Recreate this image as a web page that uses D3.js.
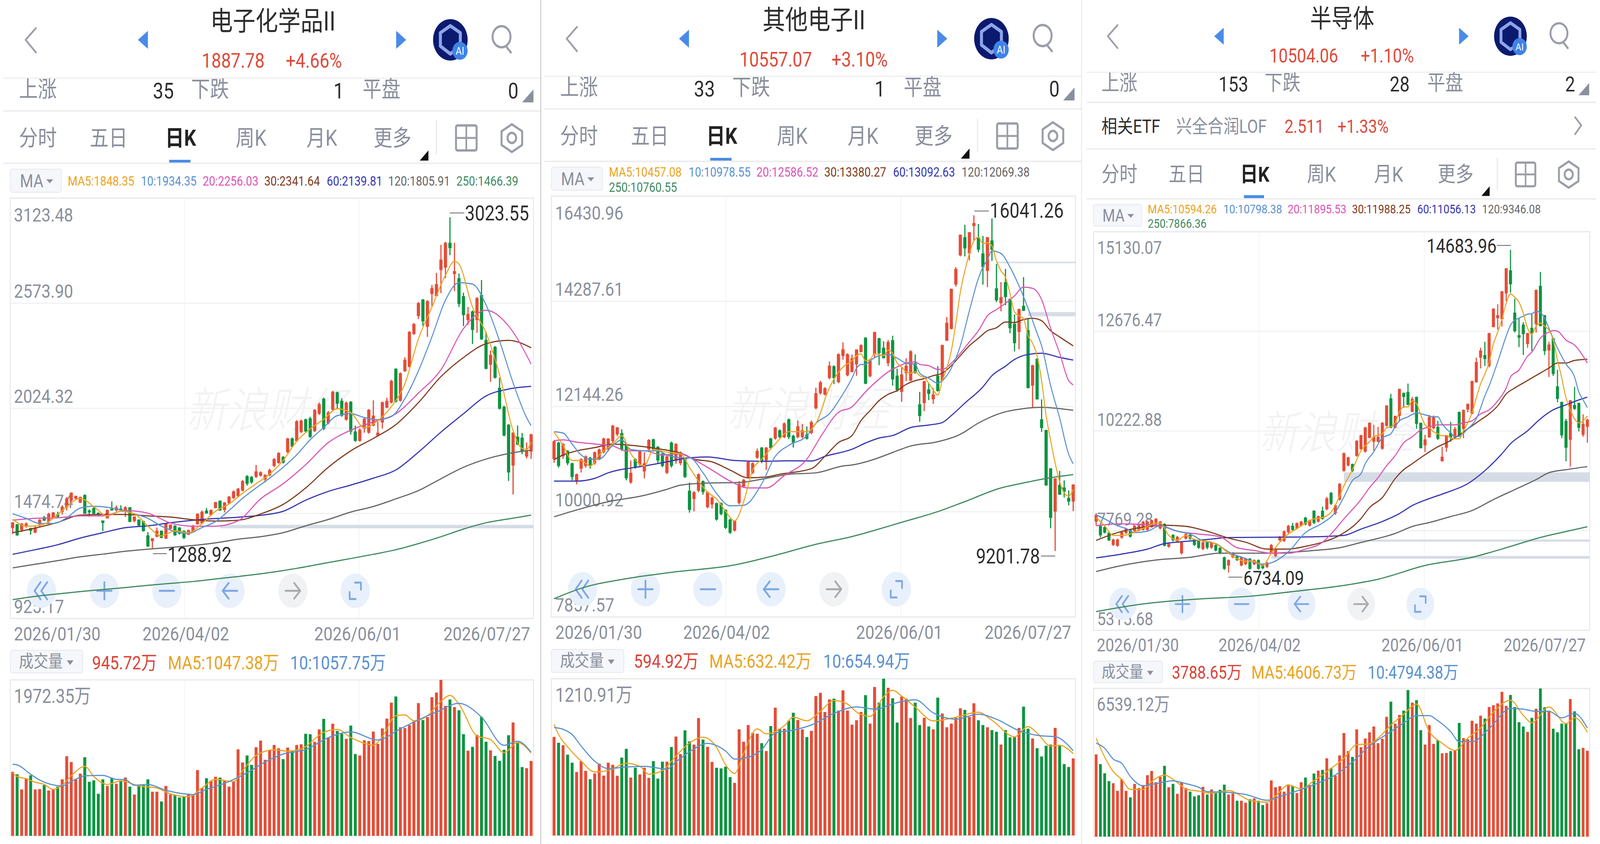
<!DOCTYPE html>
<html>
<head>
<meta charset="utf-8">
<script src="https://cdn.jsdelivr.net/npm/d3@7"></script>
<style>
html, body { margin: 0; padding: 0; background: #fff; overflow: hidden; }
text { font-family: Roboto, "Noto Sans CJK SC", sans-serif; }
</style>
</head>
<body>
<script>
// candles are [open, close, high, low]
const p1Candles = [[1398,1428,1430,1367],[1418,1360,1420,1358],[1388,1422,1424,1378],[1405,1422,1428,1400],[1398,1384,1400,1364],[1374,1401,1408,1372],[1418,1442,1445,1405],[1455,1437,1462,1435],[1432,1473,1478,1425],[1452,1480,1482,1450],
[1470,1456,1484,1455],[1483,1510,1517,1469],[1507,1554,1560,1490],[1541,1583,1585,1524],[1552,1566,1568,1544],[1531,1561,1563,1529],[1571,1473,1575,1473],[1490,1480,1496,1457],[1503,1473,1509,1470],[1478,1470,1480,1459],
[1438,1425,1438,1382],[1449,1493,1495,1449],[1500,1490,1537,1490],[1490,1507,1517,1485],[1500,1490,1517,1490],[1483,1507,1513,1456],[1507,1430,1507,1430],[1435,1459,1459,1428],[1442,1411,1444,1409],[1435,1382,1437,1380],
[1360,1302,1377,1300],[1330,1345,1345,1289],[1353,1384,1401,1350],[1384,1347,1386,1345],[1343,1422,1424,1341],[1394,1416,1418,1392],[1411,1360,1413,1358],[1401,1369,1403,1365],[1384,1347,1386,1341],[1364,1388,1390,1362],
[1377,1408,1415,1375],[1418,1473,1475,1416],[1422,1484,1490,1420],[1490,1475,1503,1473],[1466,1493,1495,1464],[1503,1534,1535,1501],[1541,1490,1543,1488],[1493,1532,1534,1480],[1527,1563,1565,1525],[1555,1590,1595,1550],
[1565,1604,1608,1560],[1594,1644,1650,1590],[1670,1630,1675,1620],[1666,1637,1670,1630],[1666,1695,1728,1660],[1672,1690,1695,1668],[1652,1676,1680,1637],[1673,1702,1709,1668],[1723,1759,1765,1717],[1738,1791,1795,1735],
[1770,1740,1775,1735],[1795,1867,1870,1790],[1867,1824,1872,1820],[1853,1957,1962,1850],[1900,1960,1965,1895],[1967,1903,1970,1895],[1972,1874,1980,1870],[1905,2017,2020,1900],[1996,2046,2055,1990],[2075,1917,2080,1910],
[1946,2003,2010,1940],[2017,2111,2116,2010],[2108,2048,2112,2022],[2064,1986,2077,1980],[1965,2054,2060,1960],[2059,1903,2062,1887],[1903,1854,1934,1850],[1854,1913,1920,1850],[1918,1970,1975,1897],[1897,2017,2020,1892],
[1934,1986,2066,1930],[1882,1897,1955,1880],[1950,2056,2060,1918],[2028,2064,2080,2025],[2054,2168,2174,2050],[2231,2059,2234,2055],[2064,2208,2212,2060],[2218,2278,2291,2215],[2241,2424,2428,2238],[2413,2465,2471,2408],
[2507,2575,2580,2491],[2593,2479,2596,2455],[2450,2585,2590,2398],[2622,2653,2669,2559],[2611,2674,2733,2611],[2747,2802,2879,2627],[2760,2890,2895,2705],[2890,2862,3023,2825],[2726,2742,2890,2637],[2705,2570,2729,2554],
[2611,2512,2629,2455],[2486,2518,2554,2460],[2531,2434,2536,2361],[2486,2601,2606,2419],[2617,2385,2695,2382],[2382,2231,2424,2228],[2252,2304,2327,2163],[2346,2184,2350,2180],[2132,2022,2184,2018],[2033,1882,2038,1878],
[1939,1689,1942,1645],[1725,1897,1900,1574],[1876,1835,1934,1832],[1871,1798,1895,1785],[1772,1804,1845,1762],[1798,1888,1892,1760]];
const p2Candles = [[11074,11437,11460,11000],[11410,10933,11430,10900],[11130,11382,11400,11080],[11241,10990,11260,10950],[10990,10710,11000,10640],[10626,10766,10780,10560],[10878,11074,11090,10800],[10934,11130,11150,10900],[11102,10934,11120,10880],[10990,11214,11230,10960],
[11074,11270,11290,11050],[11214,11493,11510,11190],[11270,11493,11500,11230],[11437,11756,11770,11400],[11578,11717,11730,11540],[11605,11270,11680,11240],[11382,10682,11400,10640],[10598,10794,11046,10570],[11074,10906,11090,10880],[10962,11241,11260,10930],
[10822,10990,11214,10682],[11270,11465,11480,11230],[11477,11270,11490,11230],[11325,11046,11340,10990],[11185,10934,11200,10910],[10794,11130,11150,10770],[11410,10934,11430,10900],[11035,11382,11400,10980],[10990,11214,11230,10950],[11074,10710,11090,10690],
[10430,10038,10598,9983],[10262,10402,10420,10010],[10430,10766,10780,10400],[10626,10402,10640,10350],[10094,10402,10420,10070],[10150,10290,10310,10066],[10178,9842,10190,9820],[10178,9954,10190,9930],[10038,9674,10050,9650],[9842,9573,9860,9550],
[9618,9814,9830,9600],[10178,10570,10626,10150],[10514,10654,10670,10490],[10710,11018,11030,10680],[10794,10990,11010,10770],[11102,11241,11290,11080],[11309,11018,11320,10990],[11046,11309,11320,10850],[11493,11298,11510,11270],[11493,11717,11730,11470],
[11661,11521,11680,11500],[11521,11801,11820,11500],[11885,11521,11900,11480],[11549,11410,11570,11309],[11521,11745,11860,11500],[11521,11661,11790,11500],[11577,11493,11740,11470],[11605,11829,11860,11580],[12109,12417,12529,12090],[12417,12641,12670,12390],
[12390,12518,12540,12370],[12725,12977,13061,12700],[12966,12725,12985,12600],[12641,13212,13230,12620],[13173,13313,13453,13100],[12781,13212,13230,12760],[12850,13130,13206,12840],[13003,13308,13308,12774],[13257,13399,13410,13250],[13547,12611,13560,12600],
[12764,13079,13100,12740],[13206,13663,13670,13130],[13536,13231,13545,12987],[13343,13130,13475,13125],[13028,13460,13500,12967],[13496,12698,13587,12571],[12774,12479,12916,12444],[12444,12799,12937,12240],[12825,12977,13130,12662],[12672,13272,13290,12660],
[13028,12825,13206,12815],[12190,11951,12444,11834],[12215,12662,12670,12052],[12494,12403,12621,12276],[12291,12393,12520,12200],[12774,12459,12967,12450],[12672,13399,13405,12660],[13486,13851,13968,13480],[13725,14543,14548,13718],[14629,14949,14985,14588],
[15224,15645,15650,15204],[15595,15366,15849,15203],[15264,15696,15700,15122],[15823,15884,16041,15529],[15595,15340,15864,15290],[15264,14985,15620,14629],[14908,15595,15600,14578],[15529,15340,15976,15112],[14553,14309,15051,14273],[14248,14375,14680,14085],
[14680,14375,14949,14207],[14339,13740,14345,13638],[13831,13435,14019,13267],[13663,14131,14140,13308],[14197,14095,14781,14090],[13699,12520,13933,12515],[12570,12987,12995,12124],[13120,12291,13125,12285],[11885,11707,12291,11630],[11666,10538,11672,10530],
[10884,9877,10890,9664],[10004,10680,10685,9202],[10548,10350,10833,10345],[10497,10411,10640,10294],[10284,10208,10436,10131],[10208,10557,10562,10015]];
const p3Candles = [[7990,8159,8200,7889],[7889,7652,7910,7600],[7855,7720,7880,7700],[7720,7531,7740,7510],[7416,7551,7570,7390],[7395,7551,7570,7370],[7598,7733,7750,7570],[7707,7821,7840,7690],[7787,7618,7800,7600],[7754,7889,7900,7730],
[7774,7889,7900,7750],[7787,7990,8010,7770],[7787,7990,8010,7770],[7855,8024,8040,7840],[7922,8058,8080,7900],[7821,7990,8010,7800],[7936,7396,7950,7380],[7369,7450,7470,7350],[7666,7531,7680,7500],[7504,7618,7640,7480],
[7213,7483,7500,7180],[7571,7686,7700,7550],[7666,7571,7680,7540],[7551,7416,7570,7390],[7517,7348,7530,7320],[7315,7483,7500,7290],[7483,7348,7500,7310],[7348,7483,7500,7320],[7416,7281,7430,7260],[7348,7213,7360,7190],
[7112,6828,7130,6800],[6910,7045,7060,6734],[7112,7213,7240,7090],[7146,7045,7160,7020],[6910,7125,7140,6890],[6943,7079,7100,6920],[7079,6828,7095,6810],[6943,7045,7060,6920],[7045,6828,7060,6810],[6943,6842,6960,6820],
[6876,6977,7000,6850],[7213,7416,7440,7190],[7146,7315,7330,7120],[7531,7618,7640,7510],[7517,7753,7770,7490],[7729,7889,7910,7700],[7889,7787,7960,7770],[7821,7956,7970,7800],[7889,7990,8010,7870],[8091,7922,8110,7900],
[7889,8024,8040,7870],[8260,7956,8270,7930],[7990,8125,8140,7970],[8260,8058,8360,8040],[8294,8564,8600,8270],[8699,8429,8720,8400],[8193,8395,8420,8155],[8530,8922,8940,8510],[9239,9678,9690,9220],[9374,9576,9590,9350],
[9408,9239,9420,9210],[9610,9981,10000,9590],[9779,10117,10130,9760],[9712,10311,10325,9690],[10055,10424,10440,10040],[9957,10080,10375,9736],[9957,10080,10325,9945],[9786,10424,10440,9761],[10350,10851,10860,10330],[11027,10301,11135,10290],
[10301,10595,10600,10290],[10595,11258,11265,10448],[11160,11062,11170,10792],[11184,10865,11390,10860],[10693,11013,11062,10685],[11062,10399,11070,10276],[10424,9800,10430,9795],[9869,10016,10129,9702],[10065,10571,10620,10060],[10291,10571,10605,10260],
[10325,10031,10473,10001],[9476,9589,9834,9476],[9810,10104,10110,9712],[10178,10055,10448,9957],[10055,10276,10325,10050],[10693,10080,10698,10075],[10276,10743,10750,10046],[10752,10890,10900,10684],[10644,11454,11460,10640],[11420,11921,12029,11415],
[12029,12205,12274,11764],[12093,11994,12421,11823],[11823,12633,12640,11790],[12780,13236,13242,12775],[13001,13074,13344,12716],[12976,13664,13670,12795],[13614,14228,14234,13418],[14179,13835,14684,13629],[13138,12682,13482,12648],[12583,12520,13001,12289],
[12844,12608,12903,12093],[12363,12633,12640,12274],[12765,12633,13099,12191],[12854,13698,13704,12648],[13796,12804,14140,12800],[13074,12191,13080,12093],[12205,12353,12421,11553],[12510,11626,12515,11577],[11322,11013,11734,10929],[10939,10114,10945,10046],
[10473,9810,10522,9476],[10006,10978,10985,9344],[10865,10767,11307,10740],[10914,10301,10920,10212],[10129,10399,10635,10080],[10325,10504,10522,9933]];

// moving averages as [bar index, value]
const p1Ma5 = [[0,1445],[3,1408],[6,1412],[9,1449],[12,1510],[15,1554],[18,1510],[21,1462],[24,1486],[27,1473],[30,1408],[33,1357],[36,1384],[39,1374],[42,1422],[45,1486],[48,1524],[51,1580],[54,1630],[57,1680],[60,1752],[63,1852],[66,1917],[69,1967],[72,2022],[75,2002],[78,1923],[81,1960],[84,2033],[87,2153],[90,2387],[93,2554],[96,2721],[98,2793],[99,2778],[102,2554],[105,2419],[108,2200],[111,1908],[113,1814],[114,1809],[115,1848]];
const p1Ma10 = [[0,1473],[3,1449],[6,1422],[9,1422],[12,1452],[15,1503],[18,1512],[21,1507],[24,1493],[27,1473],[30,1449],[33,1408],[36,1381],[39,1371],[42,1401],[45,1432],[48,1490],[51,1554],[54,1608],[57,1659],[60,1716],[63,1781],[66,1860],[69,1924],[72,1986],[75,1996],[78,1976],[81,1965],[84,1981],[87,2075],[90,2220],[93,2398],[96,2590],[99,2681],[102,2674],[105,2565],[108,2377],[111,2158],[114,1976],[115,1934]];
const p1Ma20 = [[0,1439],[5,1449],[10,1452],[15,1462],[20,1462],[25,1490],[30,1476],[35,1425],[40,1408],[45,1408],[50,1436],[55,1551],[60,1630],[65,1730],[70,1845],[75,1910],[80,1953],[85,1996],[90,2104],[95,2226],[100,2441],[105,2537],[110,2455],[115,2256]];
const p1Ma30 = [[0,1374],[5,1398],[10,1428],[15,1466],[20,1469],[25,1469],[30,1462],[35,1456],[40,1442],[45,1435],[50,1439],[55,1472],[60,1522],[65,1608],[70,1716],[75,1802],[80,1867],[85,1939],[90,2054],[95,2190],[100,2290],[105,2362],[110,2380],[115,2341]];
const p1Ma60 = [[0,1261],[5,1285],[10,1311],[15,1346],[20,1374],[25,1400],[30,1410],[35,1426],[40,1439],[45,1448],[50,1455],[55,1465],[60,1486],[65,1544],[70,1590],[75,1623],[80,1659],[85,1702],[90,1795],[95,1900],[100,1996],[105,2089],[110,2125],[115,2139]];
const p1Ma120 = [[0,1190],[5,1209],[10,1228],[15,1248],[20,1262],[25,1277],[30,1288],[35,1297],[40,1307],[45,1321],[50,1340],[55,1353],[60,1374],[65,1410],[70,1443],[75,1482],[80,1511],[85,1551],[90,1594],[95,1656],[100,1716],[105,1759],[110,1788],[115,1805]];
const p1Ma250 = [[0,1024],[5,1041],[10,1054],[15,1066],[20,1077],[25,1087],[30,1099],[35,1109],[40,1119],[45,1132],[50,1145],[55,1159],[60,1176],[65,1196],[70,1218],[75,1239],[80,1261],[85,1285],[90,1317],[95,1353],[100,1393],[105,1426],[110,1446],[115,1466]];

const p2Ma5 = [[0,11622],[2,11354],[4,11046],[6,11046],[8,10934],[10,11158],[13,11382],[15,11549],[17,11186],[20,10934],[22,11270],[25,11214],[28,11186],[30,10906],[32,10626],[34,10402],[36,10262],[38,10010],[40,9814],[42,10206],[44,10850],[46,11074],[49,11381],[52,11633],[56,11633],[58,11801],[61,12529],[64,12949],[66,13079],[67,13178],[68,13216],[69,13079],[70,13104],[71,13221],[73,13181],[74,13292],[75,13231],[76,13028],[77,12952],[78,12850],[79,12825],[80,12850],[81,12774],[82,12733],[83,12621],[84,12479],[85,12378],[86,12672],[87,12927],[88,13282],[89,13841],[90,14477],[91,14908],[92,15264],[93,15518],[94,15594],[95,15467],[96,15478],[97,15417],[98,15112],[99,14908],[100,14781],[101,14451],[102,14070],[103,13994],[104,13933],[105,13587],[106,13435],[107,13181],[108,12672],[109,11961],[110,11452],[111,10995],[112,10614],[113,10385],[114,10319],[115,10457]];
const p2Ma10 = [[0,11633],[2,11605],[4,11381],[6,11158],[8,11074],[10,11074],[13,11354],[15,11465],[17,11270],[20,11242],[23,11242],[25,11158],[28,11102],[30,11102],[33,10794],[36,10374],[39,10122],[42,10133],[46,10570],[49,11130],[52,11354],[56,11550],[58,11801],[61,12000],[64,12400],[66,12723],[67,12926],[68,13003],[69,13003],[70,13079],[72,13181],[74,13206],[76,13130],[78,13028],[80,13003],[81,12825],[83,12723],[85,12621],[86,12672],[88,12926],[90,13384],[92,14095],[94,14756],[95,14985],[96,15137],[97,15315],[99,15264],[101,14985],[103,14603],[105,14146],[107,13638],[108,13384],[110,12570],[112,11910],[114,11173],[115,10978]];
const p2Ma20 = [[0,11449],[2,11465],[5,11420],[9,11381],[13,11342],[16,11242],[20,11242],[24,11158],[28,11186],[31,11063],[35,10850],[39,10626],[43,10486],[47,10486],[51,10738],[56,11073],[59,11521],[63,12026],[66,12139],[68,12342],[69,12444],[71,12622],[74,12850],[76,12952],[78,13028],[80,13053],[81,13003],[83,12977],[85,12901],[86,12901],[88,13028],[90,13231],[92,13460],[94,13689],[96,13994],[98,14121],[100,14248],[102,14400],[104,14578],[106,14553],[108,14324],[110,13740],[112,13231],[114,12672],[115,12586]];
const p2Ma30 = [[0,11063],[2,11157],[5,11242],[9,11308],[13,11381],[16,11365],[20,11326],[24,11270],[28,11197],[31,11074],[35,11018],[39,10850],[43,10693],[47,10710],[50,10766],[57,10880],[60,11130],[63,11410],[66,11554],[68,11859],[70,12062],[72,12266],[74,12393],[76,12469],[78,12596],[80,12672],[82,12713],[84,12774],[86,12825],[88,12977],[90,13181],[92,13384],[94,13536],[96,13689],[98,13750],[100,13867],[102,13857],[104,13918],[106,13943],[108,13892],[110,13689],[112,13562],[115,13380]];
const p2Ma60 = [[0,10626],[5,10626],[9,10682],[12,10794],[20,10934],[25,11018],[28,11074],[34,11118],[40,11046],[46,11029],[52,11040],[57,11035],[60,11130],[66,11275],[69,11402],[72,11504],[75,11554],[79,11717],[83,11768],[86,11819],[88,11961],[91,12215],[95,12545],[97,12774],[100,12967],[102,13104],[105,13206],[108,13231],[112,13145],[115,13092]];
const p2Ma120 = [[0,9898],[5,10038],[12,10206],[20,10335],[25,10458],[28,10542],[34,10587],[41,10598],[47,10682],[52,10766],[58,10794],[64,10934],[66,10955],[71,11072],[75,11209],[79,11341],[85,11428],[90,11580],[94,11808],[99,12012],[104,12103],[108,12128],[112,12103],[115,12069]];
const p2Ma250 = [[0,8230],[6,8442],[16,8638],[26,8767],[40,8918],[49,9114],[58,9338],[66,9496],[71,9623],[77,9786],[85,10004],[91,10208],[99,10487],[104,10588],[109,10680],[115,10760]];

const p3Ma5 = [[0,8092],[2,7889],[4,7652],[6,7652],[8,7686],[10,7787],[12,7868],[14,7956],[15,7956],[17,7652],[19,7531],[21,7652],[23,7551],[25,7517],[27,7483],[29,7382],[31,7213],[33,7079],[35,7011],[37,7011],[39,6910],[41,7213],[43,7484],[45,7686],[47,7821],[49,7956],[51,8058],[53,8091],[55,8226],[56,8395],[58,8868],[60,9273],[62,9736],[64,9957],[65,10080],[67,10154],[68,10301],[69,10326],[70,10424],[71,10693],[72,10816],[73,10816],[74,10964],[75,10900],[76,10620],[77,10375],[78,10301],[79,10203],[80,10154],[81,10105],[82,10114],[83,10056],[84,10031],[85,10031],[86,10227],[87,10424],[88,10669],[89,11037],[90,11381],[91,11626],[92,11921],[93,12363],[94,12657],[95,12976],[96,13369],[97,13600],[98,13516],[99,13394],[100,13124],[101,12755],[102,12608],[103,12804],[104,12878],[105,12804],[106,12706],[107,12461],[108,11970],[109,11528],[110,11037],[111,10743],[112,10522],[113,10424],[114,10473],[115,10594]];
const p3Ma10 = [[0,8159],[2,8058],[5,7889],[7,7821],[9,7720],[12,7754],[15,7889],[19,7754],[22,7686],[25,7517],[28,7450],[31,7247],[35,7079],[39,6943],[41,6977],[45,7247],[49,7720],[53,7956],[56,8226],[58,8597],[60,9003],[62,9172],[63,9417],[65,9712],[67,10055],[68,10105],[69,10154],[70,10326],[71,10473],[73,10571],[75,10669],[77,10620],[79,10571],[80,10571],[81,10399],[83,10178],[84,10080],[85,10095],[87,10276],[89,10522],[91,11086],[92,11332],[94,11921],[96,12559],[97,12829],[98,12952],[99,13001],[100,13050],[101,13099],[102,13109],[103,13173],[104,13138],[105,13001],[106,12755],[108,12264],[110,11872],[112,11553],[113,11184],[114,10988],[115,10798]];
const p3Ma20 = [[0,7889],[5,7936],[11,7922],[15,7889],[19,7754],[24,7686],[29,7618],[33,7348],[37,7281],[41,7213],[45,7213],[49,7315],[53,7484],[55,7686],[58,8058],[62,8534],[64,8828],[66,9074],[68,9368],[70,9614],[72,9933],[74,10080],[76,10252],[78,10325],[80,10374],[82,10374],[84,10374],[86,10424],[88,10473],[90,10644],[92,10743],[94,10963],[96,11283],[97,11553],[99,11725],[101,12068],[102,12166],[104,12510],[106,12657],[107,12696],[108,12682],[110,12461],[112,12338],[114,12068],[115,11896]];
const p3Ma30 = [[0,7530],[5,7720],[11,7855],[16,7902],[21,7875],[26,7754],[31,7585],[35,7484],[40,7315],[45,7315],[49,7382],[53,7484],[57,7652],[62,8067],[64,8337],[67,8583],[70,9049],[72,9270],[74,9417],[77,9638],[80,9834],[82,9932],[84,10055],[87,10276],[90,10497],[92,10644],[94,10841],[96,11135],[98,11283],[100,11405],[102,11528],[104,11651],[106,11774],[108,11896],[110,11896],[112,11960],[115,11988]];
const p3Ma60 = [[0,7099],[6,7193],[12,7315],[16,7450],[21,7504],[26,7551],[31,7598],[40,7605],[51,7618],[58,7652],[62,7807],[67,7994],[71,8190],[74,8386],[78,8558],[82,8705],[87,8926],[91,9245],[95,9663],[97,9908],[101,10227],[104,10522],[107,10743],[110,10866],[113,10988],[115,11056]];
const p3Ma120 = [[0,6761],[6,6910],[14,7045],[22,7112],[29,7213],[40,7213],[51,7281],[57,7349],[62,7478],[70,7699],[74,7871],[78,7969],[83,8116],[88,8264],[93,8534],[98,8779],[103,9025],[106,9196],[110,9270],[115,9346]];
const p3Ma250 = [[0,5775],[11,5965],[24,6086],[36,6154],[46,6268],[59,6437],[66,6572],[77,6910],[88,7112],[97,7380],[104,7601],[110,7748],[115,7866]];

// volume in 万
const p1Vol = [809,778,586,723,765,586,591,641,573,586,622,714,1007,933,717,787,994,683,701,531,714,631,732,659,695,737,622,522,644,641,714,558,558,434,631,522,512,485,494,531,522,831,604,728,699,747,736,695,622,686,1093,928,1016,897,1120,1204,961,1080,1149,1107,970,1116,1071,1149,1157,1290,1285,1190,1345,1479,1244,1418,1327,1290,1226,1394,1034,1016,1208,1199,1318,1162,1358,1482,1684,1762,1373,1363,1400,1446,1678,1464,1501,1753,1812,1972,1643,1724,1629,1588,1285,1076,1125,1277,1504,1190,1080,1010,948,1089,1272,1433,1171,869,855,946];
const p2Vol = [761,716,697,624,562,490,574,499,434,479,555,462,562,546,461,601,669,447,523,471,523,445,574,439,570,570,683,764,629,812,727,702,907,741,685,568,523,518,531,451,406,820,724,853,792,786,713,652,845,987,825,825,887,948,892,820,760,808,1077,1102,954,1051,1057,965,1121,965,856,890,954,1084,864,1147,1026,1211,1141,1060,872,1073,1058,907,1026,853,909,842,820,1065,942,836,864,909,982,970,915,1021,890,853,836,814,801,702,814,758,758,831,995,825,749,674,610,693,702,831,691,551,529,595];
const p3Vol = [3627,3199,2797,2446,2356,2018,2529,2018,1731,2325,2146,2273,2708,2899,2401,2637,3123,2178,2325,1890,2401,2146,1986,1775,1826,2197,1858,2082,1954,2069,2293,1858,1903,1584,1584,1494,1648,1686,1584,1392,1475,2478,2178,2222,1986,2305,2241,1922,2401,2606,2273,2784,2912,2944,3455,3027,2688,3583,4572,3774,3519,4732,3947,4330,4604,4860,4125,4317,5288,5958,4987,5371,5562,6469,5913,6022,4700,4062,4924,4093,4253,3678,3691,3774,3806,5019,4349,4298,5115,4987,5339,5211,5722,5799,5881,6392,5773,6252,5722,5051,4860,4623,5243,5645,6539,5709,5562,4764,4604,4987,4987,6073,5530,3857,3915,3789];
const p1VolMa5 = [[0,796],[1,750],[3,723],[5,677],[7,650],[9,586],[11,640],[13,759],[16,878],[18,750],[21,650],[24,695],[28,631],[32,604],[35,531],[39,494],[42,604],[45,714],[49,686],[51,823],[54,1016],[58,1089],[61,1071],[64,1098],[69,1308],[72,1345],[75,1244],[78,1171],[80,1144],[82,1254],[85,1519],[87,1528],[89,1455],[92,1519],[95,1702],[97,1775],[99,1665],[103,1263],[106,1217],[109,1052],[112,1180],[115,1047]];
const p1VolMa10 = [[0,904],[1,897],[4,778],[6,705],[11,631],[13,686],[16,759],[20,764],[23,714],[25,710],[27,640],[30,649],[34,576],[38,531],[40,522],[43,586],[48,686],[52,796],[56,933],[60,1034],[65,1089],[70,1241],[75,1313],[81,1212],[86,1354],[91,1492],[94,1565],[99,1675],[104,1501],[109,1144],[112,1196],[115,1058]];
const p2VolMa5 = [[0,859],[1,780],[3,685],[6,574],[9,490],[12,501],[16,557],[19,534],[21,473],[24,501],[27,613],[30,714],[33,759],[36,681],[38,546],[40,479],[42,635],[45,824],[47,785],[51,847],[53,914],[56,886],[59,959],[62,1043],[65,1015],[67,954],[70,920],[73,1071],[75,1121],[77,1077],[80,992],[84,885],[89,913],[94,952],[97,890],[102,763],[105,841],[107,791],[110,691],[112,696],[115,632]];
const p2VolMa10 = [[0,834],[2,820],[4,780],[6,691],[9,574],[12,517],[16,529],[20,534],[25,512],[27,568],[30,646],[34,711],[38,652],[40,590],[42,596],[46,663],[49,791],[53,814],[57,853],[62,943],[67,993],[71,976],[76,1026],[80,1048],[84,947],[89,898],[94,937],[98,898],[103,809],[108,769],[111,763],[115,655]];
const p3VolMa5 = [[0,4342],[2,3511],[4,2873],[6,2522],[8,2082],[11,2082],[13,2433],[16,2708],[19,2388],[21,2101],[24,2005],[27,1909],[31,2037],[34,1788],[36,1596],[40,1520],[42,1795],[45,2273],[48,2114],[51,2465],[55,3008],[58,3455],[61,4061],[64,4093],[66,4348],[69,4923],[72,5402],[75,5849],[78,4636],[81,4125],[84,3806],[87,4349],[90,4796],[93,5498],[97,6016],[100,5350],[102,5030],[106,5722],[110,4987],[112,5243],[115,4607]];
const p3VolMa10 = [[0,4125],[2,3902],[4,3423],[6,3231],[8,2657],[11,2241],[14,2337],[18,2465],[21,2337],[24,2178],[26,1986],[31,1954],[35,1858],[40,1603],[44,1826],[48,2082],[52,2369],[56,2720],[60,3295],[64,3998],[69,4636],[72,5019],[75,5338],[78,5338],[80,5115],[83,4636],[85,4189],[88,4189],[92,4764],[97,5658],[100,5626],[103,5530],[106,5530],[109,5243],[112,5434],[115,4794]];

// grey support bands: [first bar, top, bottom]
const p1Bands = [[46,1415,1397]];
const p2Bands = [[98,15095,15065],[105,14068,13984]];
const p3Bands = [[58,9205,8969],[54,7551,7497],[41,7146,7078]];

const p1Ticks = ["3123.48","2573.90","2024.32","1474.74","925.17"];
const p2Ticks = ["16430.96","14287.61","12144.26","10000.92","7857.57"];
const p3Ticks = ["15130.07","12676.47","10222.88","7769.28","5315.68"];
const dateLabels = ["2026/01/30","2026/04/02","2026/06/01","2026/07/27"];

const maColors = ["#eba31f","#5b91d0","#da55b6","#7f3c1e","#3636b2","#666666","#3f8a5e"];
const red = "#e54d37", green = "#0d9440", grey = "#8a8f9c", dark = "#2d2d2d", priceRed = "#dd4a3c";

const panels = [
  { title:"电子化学品II", price:"1887.78", pct:"+4.66%", priceX:[607,860], up:"35", down:"1", flat:"0",
    xo:0, s:1, titleDy:0, rowY:200, tabY:284, maY:418,
    left:31, right:1605, top:507, bottom:1583, first:38, last:1598, volTop:1740, volBottom:2139, btnY:1512,
    candles:p1Candles, mas:[p1Ma5,p1Ma10,p1Ma20,p1Ma30,p1Ma60,p1Ma120,p1Ma250], vol:p1Vol, volMa5:p1VolMa5, volMa10:p1VolMa10, bands:p1Bands, ticks:p1Ticks,
    legend:[["MA5:1848.35",204,57],["10:1934.35",424,57],["20:2256.03",610,57],["30:2341.64",795,57],["60:2139.81",983,57],["120:1805.91",1168,57],["250:1466.39",1373,57]],
    hi:{text:"3023.55",x:1399,y:564,dash:[1353,1397,545]}, lo:{text:"1288.92",x:504,y:1438,dash:[460,502,1417]},
    mark:[560,1093], dateY:1639, dateX:[42,559,1076,1595],
    volBtn:[31,1664,218,58], volText:[["945.72万",277],["MA5:1047.38万",505],["10:1057.75万",873]], volTextY:1713, volMax:"1972.35万", volMaxPos:[42,1799] },
  { title:"其他电子II", price:"10557.07", pct:"+3.10%", priceX:[597,874], up:"33", down:"1", flat:"0",
    xo:1628, s:1, titleDy:-3, rowY:195, tabY:279, maY:413,
    left:1659, right:3236, top:502, bottom:1579, first:1667, last:3229, volTop:1737, volBottom:2138, btnY:1508,
    candles:p2Candles, mas:[p2Ma5,p2Ma10,p2Ma20,p2Ma30,p2Ma60,p2Ma120,p2Ma250], vol:p2Vol, volMa5:p2VolMa5, volMa10:p2VolMa10, bands:p2Bands, ticks:p2Ticks,
    legend:[["MA5:10457.08",204,39],["10:10978.55",444,39],["20:12586.52",648,39],["30:13380.27",852,39],["60:13092.63",1059,39],["120:12069.38",1265,39],["250:10760.55",204,78]],
    hi:{text:"16041.26",x:2978,y:557,dash:[2932,2975,540]}, lo:{text:"9201.78",x:3129,y:1442,anchor:"end",dash:[3132,3175,1423]},
    mark:[2188,1090], dateY:1635, dateX:[1671,2186,2706,3223],
    volBtn:[1659,1662,218,59], volText:[["594.92万",1907],["MA5:632.42万",2134],["10:654.94万",2477]], volTextY:1709, volMax:"1210.91万", volMaxPos:[1671,1796] },
  { title:"半导体", price:"10504.06", pct:"+1.10%", priceX:[590,880], up:"153", down:"28", flat:"2",
    xo:3260, s:0.948, titleDy:-4, rowY:185, tabY:381, maY:509,
    left:3290, right:4783, top:593, bottom:1613, first:3298, last:4776, volTop:1762, volBottom:2141, btnY:1546,
    candles:p3Candles, mas:[p3Ma5,p3Ma10,p3Ma20,p3Ma30,p3Ma60,p3Ma120,p3Ma250], vol:p3Vol, volMa5:p3VolMa5, volMa10:p3VolMa10, bands:p3Bands, ticks:p3Ticks,
    legend:[["MA5:10594.26",204,39],["10:10798.38",444,39],["20:11895.53",648,39],["30:11988.25",852,39],["60:11056.13",1059,39],["120:9346.08",1265,39],["250:7866.36",204,78]],
    hi:{text:"14683.96",x:4503,y:647,anchor:"end",dash:[4504,4546,628]}, lo:{text:"6734.09",x:3741,y:1497,dash:[3696,3738,1477]},
    mark:[3790,1148], dateY:1667, dateX:[3300,3790,4280,4771],
    volBtn:[3290,1692,208,55], volText:[["3788.65万",3526],["MA5:4606.73万",3765],["10:4794.38万",4115]], volTextY:1737, volMax:"6539.12万", volMaxPos:[3300,1819],
    etf:true }
];

// the window can be narrower than the picture, so the drawing is fitted to it
const svg = d3.select("body").append("svg").attr("viewBox", "0 0 4814 2160").attr("preserveAspectRatio", "none")
  .style("display", "block").style("width", "100vw").style("height", "100vh");
svg.append("rect").attr("width", 4814).attr("height", 2160).attr("fill", "#fff");

function label(g, str, x, y, size, fill, extra) {
  const t = g.append("text").attr("x", x).attr("y", y).attr("font-size", size).attr("fill", fill).text(str);
  if (extra) Object.keys(extra).forEach(k => t.attr(k, extra[k]));
  return t;
}
function poly(g, pts, stroke, w, fill) {
  return g.append("polyline").attr("points", pts.map(p => p.join(",")).join(" "))
    .attr("fill", fill || "none").attr("stroke", stroke || "none").attr("stroke-width", w || 0)
    .attr("stroke-linejoin", "round").attr("stroke-linecap", "round");
}

function drawHeader(p) {
  const sec = y => svg.append("g").attr("transform", `translate(${p.xo},${y}) scale(${p.s})`);
  const icon = "#9a9ea8", sep = "#eeeeee";

  const top = sec(p.titleDy);
  label(top, p.title, 821, 78, 68, dark, {"text-anchor":"middle"});
  label(top, p.price, p.priceX[0], 173, 52, priceRed);
  label(top, p.pct, p.priceX[1], 173, 52, priceRed);
  poly(top, [[108,72],[77,102],[108,134]], icon, 5);
  poly(top, [[445,79],[415,102],[445,125]], null, 0, "#4a8be8");
  poly(top, [[1192,79],[1222,102],[1192,125]], null, 0, "#4a8be8");
  top.append("ellipse").attr("cx", 1355).attr("cy", 102).attr("rx", 52).attr("ry", 53).attr("fill", "#0b1a6e");
  poly(top, [[1355,66],[1385,84],[1385,118],[1355,138],[1325,118],[1325,84],[1355,66]], "#8ea5e8", 9);
  poly(top, [[1355,78],[1374,102],[1355,126],[1336,102],[1355,78]], null, 0, "#0b1a6e");
  top.append("circle").attr("cx", 1384).attr("cy", 130).attr("r", 23).attr("fill", "#3f83e8");
  label(top, "AI", 1384, 140, 28, "#fff", {"text-anchor":"middle"});
  top.append("circle").attr("cx", 1509).attr("cy", 94).attr("r", 27).attr("fill", "none").attr("stroke", icon).attr("stroke-width", 6);
  poly(top, [[1522,118],[1537,134]], icon, 6);

  const row = sec(p.rowY);
  row.append("line").attr("x1", 10).attr("x2", 1627).attr("y1", 0).attr("y2", 0).attr("stroke", sep).attr("stroke-width", 3);
  label(row, "上涨", 57, 48, 57, grey);
  label(row, p.up, 523, 52, 56, dark, {"text-anchor":"end"});
  label(row, "下跌", 575, 48, 57, grey);
  label(row, p.down, 1035, 52, 56, dark, {"text-anchor":"end"});
  label(row, "平盘", 1091, 48, 57, grey);
  label(row, p.flat, 1560, 52, 56, dark, {"text-anchor":"end"});
  poly(row, [[1571,62],[1605,29],[1605,62]], null, 0, grey);

  if (p.etf) {
    const etf = sec(262);
    etf.append("line").attr("x1", 10).attr("x2", 1627).attr("y1", 0).attr("y2", 0).attr("stroke", sep).attr("stroke-width", 4);
    label(etf, "相关ETF", 57, 82, 50, dark);
    label(etf, "兴全合润LOF", 294, 82, 50, grey);
    label(etf, "2.511", 638, 82, 50, priceRed);
    label(etf, "+1.33%", 806, 82, 50, priceRed);
    poly(etf, [[1560,40],[1580,62],[1560,86]], icon, 5);
  }

  const tab = sec(p.tabY);
  tab.append("line").attr("x1", 10).attr("x2", 1627).attr("y1", 0).attr("y2", 0).attr("stroke", sep).attr("stroke-width", 4);
  [["分时",57],["五日",270],["周K",709],["月K",922],["更多",1124]].forEach(d => label(tab, d[0], d[1], 89, 57, grey));
  label(tab, "日K", 497, 89, 57, "#222", {"font-weight":700});
  tab.append("rect").attr("x", 509).attr("y", 125).attr("width", 64).attr("height", 8).attr("fill", "#4a8be8");
  poly(tab, [[1263,127],[1289,101],[1289,127]], null, 0, "#111");
  tab.append("line").attr("x1", 1313).attr("x2", 1313).attr("y1", 24).attr("y2", 111).attr("stroke", "#dddddd").attr("stroke-width", 2);
  tab.append("rect").attr("x", 1372).attr("y", 37).attr("width", 62).attr("height", 64).attr("rx", 5).attr("fill", "none").attr("stroke", icon).attr("stroke-width", 6);
  poly(tab, [[1403,37],[1403,101]], icon, 5);
  poly(tab, [[1372,69],[1434,69]], icon, 5);
  poly(tab, [[1540,34],[1571,52],[1571,87],[1540,105],[1509,87],[1509,52],[1540,34]], icon, 6);
  tab.append("circle").attr("cx", 1540).attr("cy", 69).attr("r", 13).attr("fill", "none").attr("stroke", icon).attr("stroke-width", 6);

  const ma = sec(p.maY);
  ma.append("line").attr("x1", 10).attr("x2", 1627).attr("y1", 0).attr("y2", 0).attr("stroke", sep).attr("stroke-width", 4);
  ma.append("rect").attr("x", 31).attr("y", 15).attr("width", 154).attr("height", 59).attr("rx", 7).attr("fill", "#f5f7fb").attr("stroke", "#e4e7ee").attr("stroke-width", 2);
  label(ma, "MA", 60, 61, 46, grey);
  poly(ma, [[139,41],[160,41],[150,51]], null, 0, grey);
  p.legend.forEach((d, i) => label(ma, d[0], d[1], d[2], 33.5, maColors[i]));
}

function drawZoomButtons(p) {
  const g = svg.append("g").attr("transform", `translate(${p.xo},${p.btnY}) scale(${p.s})`);
  const xs = [125, 314, 502, 692, 881, 1069];
  const blue = "#7da6e4";
  g.selectAll("circle").data(xs).join("circle").attr("cx", d => d).attr("cy", 0).attr("r", 44)
    .attr("fill", (d, i) => i === 4 ? "#f1f2f4" : "#e8f0fb");
  poly(g, [[122,-22],[104,0],[122,22]], blue, 5);
  poly(g, [[142,-22],[124,0],[142,22]], blue, 5);
  poly(g, [[314,-22],[314,22]], blue, 5);
  poly(g, [[292,0],[336,0]], blue, 5);
  poly(g, [[480,0],[524,0]], blue, 5);
  poly(g, [[670,0],[714,0]], blue, 5);
  poly(g, [[688,-20],[670,0],[688,20]], blue, 5);
  poly(g, [[859,0],[903,0]], "#aaaaaa", 5);
  poly(g, [[885,-20],[903,0],[885,20]], "#aaaaaa", 5);
  poly(g, [[1068,-21],[1086,-21],[1086,-3]], blue, 5);
  poly(g, [[1052,3],[1052,21],[1070,21]], blue, 5);
}

function drawChart(p) {
  const x = d3.scalePoint().domain(d3.range(p.candles.length)).range([p.first, p.last]);
  const ticks = p.ticks.map(Number);
  const y = d3.scaleLinear().domain([ticks[4], ticks[0]]).range([p.bottom, p.top]);
  const yVol = d3.scaleLinear().domain([0, d3.max(p.vol)]).range([p.volBottom, p.volTop]);
  const cols = d3.scaleLinear().domain([0, 3]).range([p.left, p.right]);
  const frame = "#e7e8ec", grid = "#f0f1f3";
  const g = svg.append("g");

  // frames and grid
  [[p.top, p.bottom], [p.volTop, p.volBottom]].forEach(r => {
    g.append("rect").attr("x", p.left).attr("y", r[0]).attr("width", p.right - p.left).attr("height", r[1] - r[0])
      .attr("fill", "none").attr("stroke", frame).attr("stroke-width", 3);
    [1, 2].forEach(c => g.append("line").attr("x1", cols(c)).attr("x2", cols(c)).attr("y1", r[0]).attr("y2", r[1]).attr("stroke", grid).attr("stroke-width", 2));
  });
  g.selectAll(".grid").data(ticks.slice(1, 4)).join("line").attr("class", "grid")
    .attr("x1", p.left).attr("x2", p.right).attr("y1", d => y(d)).attr("y2", d => y(d)).attr("stroke", grid).attr("stroke-width", 3);

  label(g, "新浪财经", p.mark[0], p.mark[1], 122 * p.s, "#f2f2f3", {"font-style":"italic", "font-weight":300});

  g.selectAll(".band").data(p.bands).join("rect").attr("class", "band")
    .attr("x", d => x(d[0])).attr("width", d => p.right - x(d[0]))
    .attr("y", d => y(d[1])).attr("height", d => y(d[2]) - y(d[1])).attr("fill", "#d6dce6");

  // axis labels sit under the candles
  p.ticks.forEach((t, i) => {
    const yy = i === 0 ? p.top + 60 * p.s : y(+t) - 14 * p.s;
    label(g, t, p.left + 11, yy, 49 * p.s, grey);
  });

  drawZoomButtons(p);

  const g2 = svg.append("g");
  // wicks and bodies
  const colorOf = d => d[1] >= d[0] ? red : green;
  g2.selectAll(".wick").data(p.candles).join("line").attr("class", "wick")
    .attr("x1", (d, i) => x(i)).attr("x2", (d, i) => x(i))
    .attr("y1", d => y(d[2])).attr("y2", d => y(d[3]))
    .attr("stroke", colorOf).attr("stroke-width", 3.5 * p.s);
  g2.selectAll(".body").data(p.candles).join("rect").attr("class", "body")
    .attr("x", (d, i) => x(i) - 4.8 * p.s).attr("width", 9.6 * p.s)
    .attr("y", d => y(Math.max(d[0], d[1])))
    .attr("height", d => Math.max(2, Math.abs(y(d[0]) - y(d[1]))))
    .attr("fill", colorOf);

  const line = d3.line().x(d => x(d[0])).y(d => y(d[1])).curve(d3.curveMonotoneX);
  p.mas.slice().reverse().forEach((m, i) => {
    g2.append("path").attr("d", line(m)).attr("fill", "none")
      .attr("stroke", maColors[6 - i]).attr("stroke-width", 3);
  });

  // high and low callouts
  [p.hi, p.lo].forEach(c => {
    g2.append("line").attr("x1", c.dash[0]).attr("x2", c.dash[1]).attr("y1", c.dash[2]).attr("y2", c.dash[2]).attr("stroke", "#666").attr("stroke-width", 2);
    label(g2, c.text, c.x, c.y, 53 * p.s, dark, {"text-anchor": c.anchor || "start"});
  });

  // dates
  dateLabels.forEach((d, i) => {
    label(svg, d, p.dateX[i], p.dateY, 49 * p.s, grey, {"text-anchor": ["start","middle","middle","end"][i]});
  });

  // volume
  const b = p.volBtn;
  svg.append("rect").attr("x", b[0]).attr("y", b[1]).attr("width", b[2]).attr("height", b[3]).attr("rx", 7)
    .attr("fill", "#f5f7fb").attr("stroke", "#e4e7ee").attr("stroke-width", 2);
  label(svg, "成交量", b[0] + 26 * p.s, b[1] + 44 * p.s, 44 * p.s, grey);
  const bx = b[0] + 170 * p.s, by = b[1] + 26 * p.s;
  poly(svg, [[bx, by], [bx + 20 * p.s, by], [bx + 10 * p.s, by + 12 * p.s]], null, 0, grey);
  const volColors = ["#d9443a", maColors[0], maColors[1]];
  p.volText.forEach((d, i) => label(svg, d[0], d[1], p.volTextY, 48 * p.s, volColors[i]));

  label(svg, p.volMax, p.volMaxPos[0], p.volMaxPos[1], 50 * p.s, grey);
  const g3 = svg.append("g");
  g3.selectAll("rect").data(p.vol).join("rect")
    .attr("x", (d, i) => x(i) - 4.4 * p.s).attr("width", 8.8 * p.s)
    .attr("y", d => yVol(d)).attr("height", d => p.volBottom - yVol(d))
    .attr("fill", (d, i) => colorOf(p.candles[i]));
  const vline = d3.line().x(d => x(d[0])).y(d => yVol(d[1])).curve(d3.curveMonotoneX);
  g3.append("path").attr("d", vline(p.volMa5)).attr("fill", "none").attr("stroke", maColors[0]).attr("stroke-width", 3);
  g3.append("path").attr("d", vline(p.volMa10)).attr("fill", "none").attr("stroke", maColors[1]).attr("stroke-width", 3);
}

panels.forEach(p => { drawHeader(p); drawChart(p); });

// screenshots are separated by thin rules
svg.append("line").attr("x1", 1627).attr("x2", 1627).attr("y1", 0).attr("y2", 2160).attr("stroke", "#b5b5b5").attr("stroke-width", 2);
svg.append("line").attr("x1", 3254).attr("x2", 3254).attr("y1", 0).attr("y2", 2160).attr("stroke", "#e2e2e2").attr("stroke-width", 2);
</script>
</body>
</html>
